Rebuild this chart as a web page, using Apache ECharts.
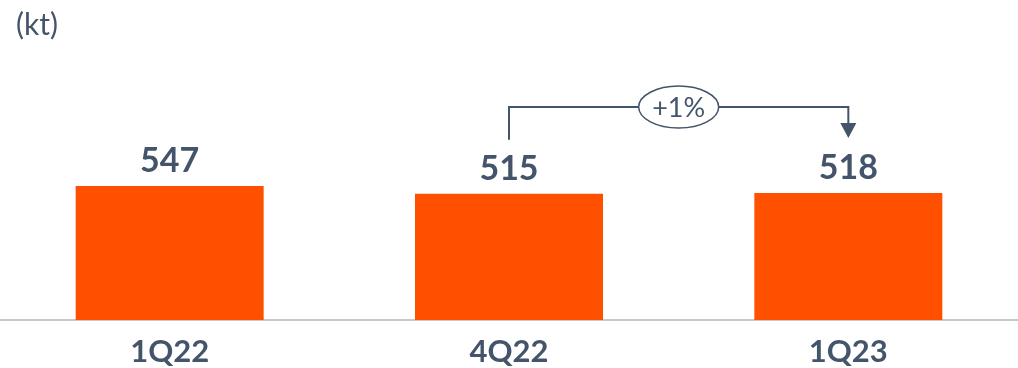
<!DOCTYPE html>
<html>
<head>
<meta charset="utf-8">
<script src="https://cdn.jsdelivr.net/npm/echarts@6/dist/echarts.min.js"></script>
<style>
  html, body { margin: 0; padding: 0; background: #ffffff; }
  #chart { width: 1018px; height: 368px; }
</style>
</head>
<body>
<div id="chart"></div>
<script>
// Quarterly volumes, kt
const categories = ['1Q22', '4Q22', '1Q23'];
const volumes = [547, 515, 518];
const unitLabel = '(kt)';
const changeLabel = '+1%';

const TEXT = '#44546A';
const BAR = '#FF5000';
const FONT = 'Lato, "Open Sans", sans-serif';

const chart = echarts.init(document.getElementById('chart'), null, { renderer: 'canvas' });

chart.setOption({
  animation: false,
  title: {
    text: unitLabel,
    left: 11,
    top: 5,
    textStyle: { color: TEXT, fontSize: 30, fontWeight: 'normal', fontFamily: FONT }
  },
  grid: { left: 0, right: 0, top: 0, bottom: 48 },
  xAxis: {
    type: 'category',
    data: categories,
    axisTick: { show: false },
    axisLine: { lineStyle: { color: '#C8C8C8', width: 2 } },
    axisLabel: {
      color: TEXT, fontSize: 31, fontWeight: 'bold', fontFamily: FONT, margin: 16
    }
  },
  yAxis: {
    type: 'value',
    min: 0,
    max: 1306,
    show: false,
    splitLine: { show: false }
  },
  series: [{
    type: 'bar',
    data: volumes,
    barWidth: 188,
    itemStyle: { color: BAR },
    label: {
      show: true,
      position: 'top',
      distance: 8,
      color: TEXT,
      fontSize: 34,
      fontWeight: 'bold',
      fontFamily: FONT
    }
  }]
});

// Bracket arrow from 4Q22 to 1Q23 with the change badge
function drawBracket() {
  const from = chart.convertToPixel({ seriesIndex: 0 }, [1, volumes[1]]);
  const to = chart.convertToPixel({ seriesIndex: 0 }, [2, volumes[2]]);
  const top = Math.min(from[1], to[1]) - 86;
  const startY = from[1] - 54;
  const endY = to[1] - 55;
  const midX = (from[0] + to[0]) / 2;
  const stroke = { stroke: TEXT, lineWidth: 2, fill: null };
  chart.setOption({
    graphic: [
      { type: 'polyline', shape: { points: [[from[0], startY], [from[0], top], [to[0], top], [to[0], endY - 14]] }, style: stroke, z: 10 },
      { type: 'polygon', shape: { points: [[to[0] - 8, endY - 15], [to[0] + 8, endY - 15], [to[0], endY]] }, style: { fill: TEXT }, z: 10 },
      { type: 'ellipse', shape: { cx: midX, cy: top, rx: 40, ry: 21 }, style: { fill: '#ffffff', stroke: TEXT, lineWidth: 1.5 }, z: 11 },
      { type: 'text', x: midX, y: top + 1, style: { text: changeLabel, fill: TEXT, font: '27px ' + FONT, align: 'center', verticalAlign: 'middle' }, z: 12 }
    ]
  });
}
drawBracket();
</script>
</body>
</html>
